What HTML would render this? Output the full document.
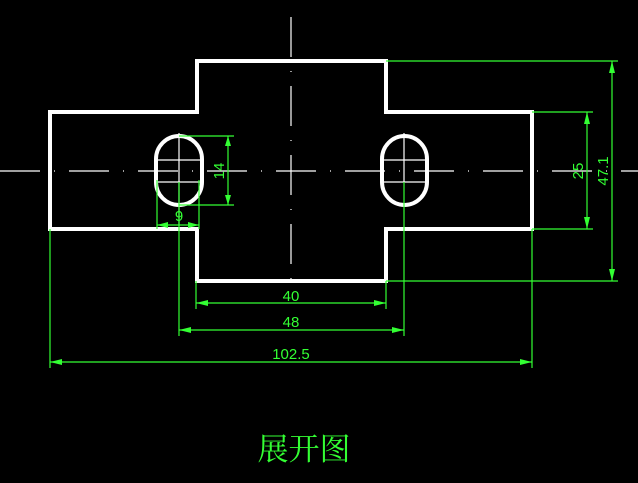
<!DOCTYPE html>
<html><head><meta charset="utf-8"><style>
html,body{margin:0;padding:0;background:#000;}
svg{display:block}
text{font-family:"Liberation Sans",sans-serif;fill:#33ff33}
</style></head><body>
<svg width="638" height="483" viewBox="0 0 638 483" xmlns="http://www.w3.org/2000/svg">
<rect width="638" height="483" fill="#000"/>
<!-- centerlines -->
<g stroke="#fff" stroke-width="1.2">
<line x1="0" y1="171" x2="638" y2="171" stroke-dasharray="40,14,1,14"/>
<line x1="291" y1="17" x2="291" y2="292" stroke-dasharray="40,14,1,14"/>
<!-- slot crosses -->
<line x1="179" y1="133" x2="179" y2="226"/>
<line x1="155" y1="160" x2="203" y2="160"/>
<line x1="155" y1="182" x2="203" y2="182"/>
<line x1="404" y1="133" x2="404" y2="182"/>
<line x1="381" y1="160" x2="428" y2="160"/>
<line x1="381" y1="182" x2="428" y2="182"/>
</g>
<!-- outline -->
<g fill="none" stroke="#fff" stroke-width="4">
<path d="M50,112 H197 V61 H386 V112 H532 V229 H386 V281 H197 V229 H50 Z"/>
<rect x="156" y="136" width="46" height="69" rx="23" ry="23"/>
<rect x="382" y="136" width="45" height="69" rx="22.5" ry="23"/>
</g>
<!-- dimensions -->
<g stroke="#33ff33" stroke-width="1.2" fill="none">
<line x1="386" y1="61" x2="618" y2="61"/>
<line x1="386" y1="281" x2="618" y2="281"/>
<line x1="612" y1="61" x2="612" y2="281"/>
<line x1="532" y1="112" x2="593" y2="112"/>
<line x1="532" y1="229" x2="593" y2="229"/>
<line x1="587" y1="112" x2="587" y2="229"/>
<line x1="179" y1="136" x2="234" y2="136"/>
<line x1="179" y1="205" x2="234" y2="205"/>
<line x1="228" y1="136" x2="228" y2="205"/>
<line x1="157" y1="180" x2="157" y2="229"/>
<line x1="199" y1="180" x2="199" y2="229"/>
<line x1="157" y1="225" x2="199" y2="225"/>
<line x1="196" y1="281" x2="196" y2="309"/>
<line x1="386" y1="281" x2="386" y2="309"/>
<line x1="196" y1="303" x2="386" y2="303"/>
<line x1="179" y1="182" x2="179" y2="336"/>
<line x1="404" y1="182" x2="404" y2="336"/>
<line x1="179" y1="330" x2="404" y2="330"/>
<line x1="50" y1="229" x2="50" y2="368"/>
<line x1="532" y1="229" x2="532" y2="368"/>
<line x1="50" y1="362" x2="532" y2="362"/>
</g>
<g fill="#33ff33">
<polygon points="612,61 609,73 615,73"/><polygon points="612,281 609,269 615,269"/>
<polygon points="587,112 584,124 590,124"/><polygon points="587,229 584,217 590,217"/>
<polygon points="228,136 225,146 231,146"/><polygon points="228,205 225,195 231,195"/>
<polygon points="157,225 168,222 168,228"/><polygon points="199,225 188,222 188,228"/>
<polygon points="196,303 208,300 208,306"/><polygon points="386,303 374,300 374,306"/>
<polygon points="179,330 191,327 191,333"/><polygon points="404,330 392,327 392,333"/>
<polygon points="50,362 62,359 62,365"/><polygon points="532,362 520,359 520,365"/>
</g>
<g font-size="15">
<text x="291" y="301" text-anchor="middle">40</text>
<text x="291" y="327" text-anchor="middle">48</text>
<text x="291" y="359" text-anchor="middle">102.5</text>
<text x="179" y="221" text-anchor="middle">9</text>
<text transform="translate(224,171) rotate(-90)" text-anchor="middle">14</text>
<text transform="translate(583,171) rotate(-90)" text-anchor="middle">25</text>
<text transform="translate(608,171) rotate(-90)" text-anchor="middle">47.1</text>
</g>
<text x="304" y="460" text-anchor="middle" font-size="31" style="font-family:'Liberation Serif','Noto Serif CJK SC',serif">展开图</text>
</svg>
</body></html>
